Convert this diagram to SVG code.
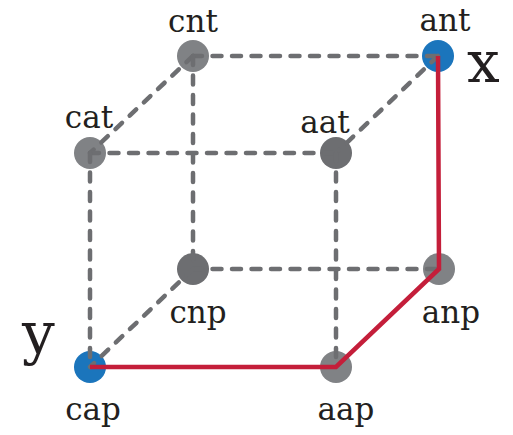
<svg xmlns="http://www.w3.org/2000/svg" width="513" height="435" viewBox="0 0 513 435">
  <style>
    .lbl { font-family: "DejaVu Serif", "Liberation Serif", serif; font-size: 31px; fill: #231f20; text-anchor: middle; }
    .var { font-family: "DejaVu Serif", "Liberation Serif", serif; font-size: 58px; fill: #231f20; }
    .n { fill: #808285; }
    .nd { fill: #6d6e71; }
    .sel { fill: #1b75bc; }
    .dash { stroke: #6d6e71; stroke-width: 4.5; stroke-dasharray: 9 10.5; stroke-linecap: round; fill: none; }
    .path { stroke: #c41e3a; stroke-width: 4.5; fill: none; stroke-linejoin: miter; }
  </style>

  <!-- cube vertices -->
  <g id="cnt"><circle class="n" cx="193" cy="56" r="16"/><text class="lbl" x="193" y="32">cnt</text></g>
  <g id="ant"><circle class="sel" cx="438" cy="56" r="16"/><text class="lbl" x="445" y="31">ant</text></g>
  <g id="cat"><circle class="n" cx="90" cy="153" r="16"/><text class="lbl" x="89" y="128">cat</text></g>
  <g id="aat"><circle class="nd" cx="336" cy="153" r="16"/><text class="lbl" x="325" y="133">aat</text></g>
  <g id="cnp"><circle class="nd" cx="193" cy="269" r="16"/><text class="lbl" x="198" y="323">cnp</text></g>
  <g id="anp"><circle class="n" cx="439" cy="269" r="16"/><text class="lbl" x="451" y="323">anp</text></g>
  <g id="cap"><circle class="sel" cx="90" cy="367" r="16"/><text class="lbl" x="93" y="420">cap</text></g>
  <g id="aap"><circle class="n" cx="336" cy="367" r="16"/><text class="lbl" x="346" y="420">aap</text></g>

  <!-- cube edges and the highlighted route -->
  <g id="connectors">
    <line class="dash" x1="193" y1="56" x2="438" y2="56"/>
    <line class="dash" x1="193" y1="56" x2="90" y2="153"/>
    <line class="dash" x1="438" y1="56" x2="336" y2="153"/>
    <line class="dash" x1="90" y1="153" x2="336" y2="153"/>
    <line class="dash" x1="193" y1="56" x2="193" y2="269"/>
    <line class="dash" x1="90" y1="153" x2="90" y2="367"/>
    <line class="dash" x1="336" y1="153" x2="336" y2="367"/>
    <line class="dash" x1="193" y1="269" x2="439" y2="269"/>
    <line class="dash" x1="193" y1="269" x2="90" y2="367"/>
    <polyline class="path" points="438,56 439,269 336,367 90,367"/>
  </g>

  <!-- endpoint names -->
  <text class="var" x="467" y="82">x</text>
  <text class="var" x="22" y="353">y</text>
</svg>
